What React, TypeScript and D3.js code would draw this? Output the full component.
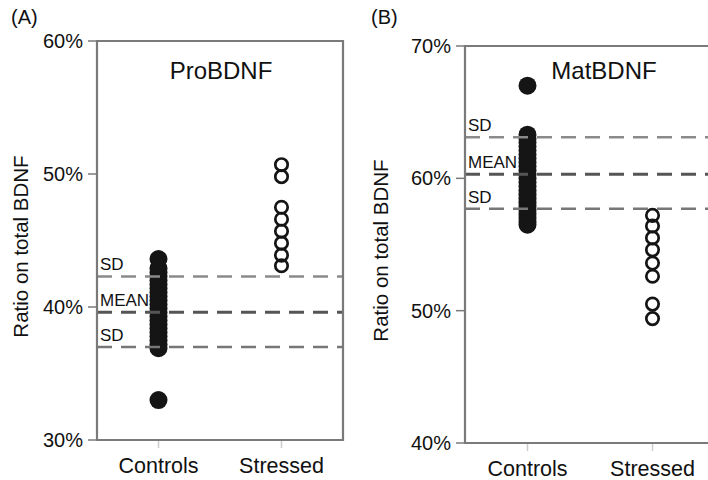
import React from "react";
import * as d3 from "d3";

// Groups on the x axis
const groups = ["Controls", "Stressed"];

// Panel A: ProBDNF ratio on total BDNF (%)
const proControls = [43.6, 42.9, 42.6, 42.3, 42.0, 41.7, 41.4, 41.1, 40.8, 40.5, 40.2, 39.9, 39.6, 39.3, 39.0, 38.7, 38.4, 38.1, 37.8, 37.5, 37.2, 36.9, 33.0];
const proStressed = [50.7, 49.8, 47.5, 46.6, 45.7, 44.8, 43.9, 43.1];
const proRefLines = [42.3, 39.6, 37.0]; // SD, MEAN, SD
const proTicks = [30, 40, 50, 60];

// Panel B: MatBDNF ratio on total BDNF (%)
const matControls = [67.0, 63.3, 63.0, 62.7, 62.4, 62.1, 61.8, 61.5, 61.2, 60.9, 60.6, 60.3, 60.0, 59.7, 59.4, 59.1, 58.8, 58.5, 58.2, 57.9, 57.6, 57.3, 57.0, 56.7, 56.5];
const matStressed = [57.2, 56.4, 55.5, 54.6, 53.6, 52.6, 50.5, 49.4];
const matRefLines = [63.1, 60.3, 57.7];
const matTicks = [40, 50, 60, 70];

const refLabels = ["SD", "MEAN", "SD"];
const refColors = ["#8a8a8a", "#555", "#777"];
const refWidths = [2.5, 3, 2.5];

const FONT = "Liberation Sans, Arial, Helvetica, sans-serif";
const FRAME = "#7a7a7a";

type PanelProps = {
  letter: string;
  title: string;
  controls: number[];
  stressed: number[];
  refLines: number[];
  ticks: number[];
  left: number;
  right: number;
  top: number;
  bottom: number;
  titleX: number;
  letterX: number;
  axisTitleX: number;
  closedRight: boolean;
};

function Panel(p: PanelProps) {
  const y = d3
    .scaleLinear()
    .domain([p.ticks[0], p.ticks[p.ticks.length - 1]])
    .range([p.bottom, p.top]);
  const x = d3.scalePoint<string>().domain(groups).range([p.left, p.right]).padding(0.5);
  const fmt = (v: number) => `${v}%`;
  const midY = (p.top + p.bottom) / 2 + 6;

  return (
    <g>
      <text x={p.letterX} y={24} fontSize={20} fontFamily={FONT} fill="#111">
        {p.letter}
      </text>

      {/* points */}
      {p.controls.map((v, i) => (
        <circle key={"c" + i} cx={x("Controls")} cy={y(v)} r={9} fill="#151515" />
      ))}
      {p.stressed.map((v, i) => (
        <circle
          key={"s" + i}
          cx={x("Stressed")}
          cy={y(v)}
          r={6.2}
          fill="none"
          stroke="#151515"
          strokeWidth={2.7}
        />
      ))}

      {/* mean and SD reference lines */}
      {p.refLines.map((v, i) => (
        <g key={"r" + i}>
          <line
            x1={p.left}
            x2={p.closedRight ? p.right : 720}
            y1={y(v)}
            y2={y(v)}
            stroke={refColors[i]}
            strokeWidth={refWidths[i]}
            strokeDasharray="15 9"
          />
          <text x={p.left + 3} y={y(v) - 6} fontSize={17} fontFamily={FONT} fill="#111">
            {refLabels[i]}
          </text>
        </g>
      ))}

      {/* frame */}
      <path
        d={
          p.closedRight
            ? `M${p.left},${p.top}H${p.right}V${p.bottom}H${p.left}Z`
            : `M720,${p.top}H${p.left}V${p.bottom}H720`
        }
        fill="none"
        stroke={FRAME}
        strokeWidth={2.2}
      />

      {/* y axis */}
      {p.ticks.map((t) => (
        <g key={"t" + t}>
          <line x1={p.left - 9} x2={p.left} y1={y(t)} y2={y(t)} stroke={FRAME} strokeWidth={1.5} />
          <text
            x={p.left - 14}
            y={y(t)}
            dy="0.35em"
            textAnchor="end"
            fontSize={20}
            fontFamily={FONT}
            fill="#111"
          >
            {fmt(t)}
          </text>
        </g>
      ))}
      <text
        transform={`translate(${p.axisTitleX},${midY}) rotate(-90)`}
        textAnchor="middle"
        fontSize={20.5}
        fontFamily={FONT}
        fill="#111"
      >
        Ratio on total BDNF
      </text>

      {/* x axis */}
      {groups.map((g) => (
        <g key={g}>
          <line
            x1={x(g)}
            x2={x(g)}
            y1={p.bottom + 1}
            y2={p.bottom + 8}
            stroke="#ccc"
            strokeWidth={1.5}
          />
          <text
            x={x(g)}
            y={p.bottom + 33}
            textAnchor="middle"
            fontSize={21.5}
            fontFamily={FONT}
            fill="#111"
          >
            {g}
          </text>
        </g>
      ))}

      <text x={p.titleX} y={79} textAnchor="middle" fontSize={24} fontFamily={FONT} fill="#111">
        {p.title}
      </text>
    </g>
  );
}

export default function App() {
  return (
    <svg
      width={708}
      height={480}
      style={{ position: "absolute", left: 0, top: 0, background: "#fff" }}
    >
      <rect width={708} height={480} fill="#fff" />
      <Panel
        letter="(A)"
        title="ProBDNF"
        controls={proControls}
        stressed={proStressed}
        refLines={proRefLines}
        ticks={proTicks}
        left={97}
        right={343}
        top={41}
        bottom={440}
        titleX={221}
        letterX={11}
        axisTitleX={28}
        closedRight={true}
      />
      <Panel
        letter="(B)"
        title="MatBDNF"
        controls={matControls}
        stressed={matStressed}
        refLines={matRefLines}
        ticks={matTicks}
        left={465}
        right={715}
        top={46}
        bottom={443}
        titleX={604}
        letterX={371}
        axisTitleX={388}
        closedRight={false}
      />
    </svg>
  );
}
